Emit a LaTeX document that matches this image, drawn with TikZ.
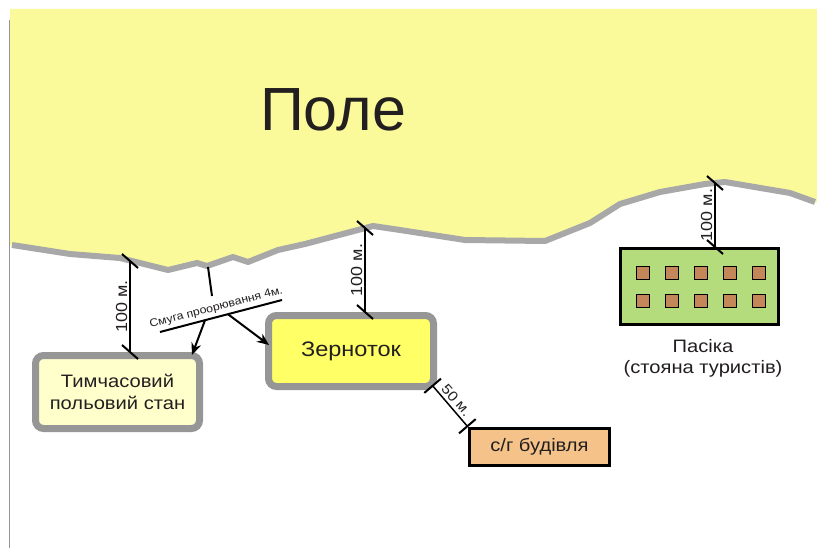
\documentclass[tikz,border=0pt]{standalone}
\usepackage{fontspec}
\setmainfont{Liberation Sans}[FakeStretch=1.12]
\newfontfamily\plainsans{Liberation Sans}
\usetikzlibrary{arrows.meta,calc}
\definecolor{fieldyellow}{RGB}{250,250,155}
\definecolor{edgegray}{RGB}{168,168,168}
\definecolor{boxgray}{RGB}{150,150,150}
\definecolor{tymfill}{RGB}{255,255,204}
\definecolor{zerfill}{RGB}{255,255,102}
\definecolor{sgfill}{RGB}{245,194,138}
\definecolor{pasfill}{RGB}{180,220,125}
\definecolor{sqfill}{RGB}{195,135,90}
\definecolor{ink}{RGB}{35,31,32}
\tikzset{
  graybox/.style={draw=boxgray, line width=7pt, rounded corners=8pt, inner sep=0pt, align=center, text=ink, font=\fontsize{18}{22}\selectfont},
  blackbox/.style={draw=black, line width=3pt, inner sep=0pt, align=center, text=ink, font=\fontsize{18}{22}\selectfont},
  sq/.style={draw=black, line width=1.5pt, fill=sqfill, minimum size=13pt, inner sep=0pt},
  dim/.style={draw=black, line width=1.5pt},
  tickline/.style={draw=black, line width=2pt},
  arr/.style={draw=black, line width=2pt, -{Stealth[length=12pt,width=10pt]}},
  dimlabel/.style={text=ink, font=\fontsize{16}{18}\selectfont, inner sep=2pt},
}
\newcommand\slanttick[1]{\draw[tickline] ([shift={(-8,-7)}]#1) -- ([shift={(8,7)}]#1);}
\begin{document}
\begin{tikzpicture}[x=1pt,y=-1pt]
\useasboundingbox (0,0) rectangle (817,551);
\fill[white] (0,0) rectangle (817,551);
% left margin line
\draw[boxgray, line width=0.8pt] (9,20) -- (9,548);
% field
\fill[fieldyellow] (10,9) -- (817,9) -- (817,203) -- (815,202) -- (790,193) -- (725,182) -- (705,184) -- (660,192) -- (620,204) -- (590,223) -- (545,241) -- (465,240) -- (400,230) -- (373,226) -- (305,244) -- (278,250) -- (248,262) -- (233,257) -- (207,266) -- (197,263) -- (168,270) -- (120,258) -- (70,254) -- (12,245) -- (10,245) -- cycle;
\draw[edgegray, line width=6pt, line join=round] (12,245) -- (70,254) -- (120,258) -- (168,270) -- (197,263) -- (207,266) -- (233,257) -- (248,262) -- (278,250) -- (305,244) -- (373,226) -- (400,230) -- (465,240) -- (545,241) -- (590,223) -- (620,204) -- (660,192) -- (705,184) -- (725,182) -- (790,193) -- (815,202);
\node[text=ink, font=\plainsans\fontsize{61}{61}\selectfont, inner sep=0pt] (pole) at (333,110) {Поле};
% boundary coordinates
\coordinate (b1) at (130,261);
\coordinate (b2) at (365,228);
\coordinate (b3) at (715,183);
\coordinate (bs) at (208,267);
\coordinate (bsend) at (212,296);
% boxes
\node[graybox, fill=tymfill, minimum width=164pt, minimum height=73pt] (tym) at (117.5,392) {Тимчасовий\\польовий стан};
\node[graybox, fill=zerfill, minimum width=165pt, minimum height=71pt, font=\fontsize{21}{24}\selectfont] (zer) at (351,351) {Зерноток};
\node[blackbox, fill=sgfill, minimum width=140pt, minimum height=37pt] (sg) at (539.5,447) {с/г будівля};
\node[blackbox, fill=pasfill, minimum width=158pt, minimum height=76pt] (pas) at (699.5,286.5) {};
\foreach \r in {273,301} {
  \foreach \c in {643,672,701,730,759} {
    \node[sq] at (\c,\r) {};
  }
}
\node[text=ink, font=\fontsize{18}{21}\selectfont, align=center, anchor=north, inner sep=0pt] (pastxt) at (703,339) {Пасіка\\(стояна туристів)};
% dimension ends
\coordinate (e1) at (b1 |- tym.north);
\coordinate (e2) at (b2 |- zer.north);
\coordinate (e3) at (b3 |- pas.north);
% dimension lines 100 m
\draw[dim] (b1) -- (e1) node[midway, rotate=90, anchor=south, dimlabel] {100 м.};
\slanttick{b1}
\slanttick{e1}
\draw[dim] (b2) -- (e2) node[midway, rotate=90, anchor=south, dimlabel] {100 м.};
\slanttick{b2}
\slanttick{e2}
\draw[dim] (b3) -- (e3) node[midway, rotate=90, anchor=south, dimlabel] {100 м.};
\slanttick{b3}
\slanttick{e3}
% 50 m
\draw[dim, {Bar[width=22pt,line width=2pt]}-{Bar[width=22pt,line width=2pt]}] ([shift={(-5,-5)}]zer.south east) -- (sg.north west) node[midway, rotate=-48.7, anchor=south, dimlabel, inner sep=3pt, font=\fontsize{14}{16}\selectfont] {50 м.};
% ploughing strip
\coordinate (s1) at (160,332);
\coordinate (s2) at (282,300);
\draw[tickline] (s1) -- (s2) node[pos=0.48, rotate=14.7, anchor=south, text=ink, inner sep=3pt, font=\fontsize{11}{13}\selectfont] {Смуга проорювання 4м.};
\path (s1) -- (s2) coordinate[pos=0.369] (sa) coordinate[pos=0.557] (sb);
\draw[tickline] (bs) -- (bsend);
\draw[arr] (sa) -- ([shift={(-11,3)}]tym.north east);
\draw[arr] (sb) -- ([shift={(4,-6)}]zer.west);
\end{tikzpicture}
\end{document}
